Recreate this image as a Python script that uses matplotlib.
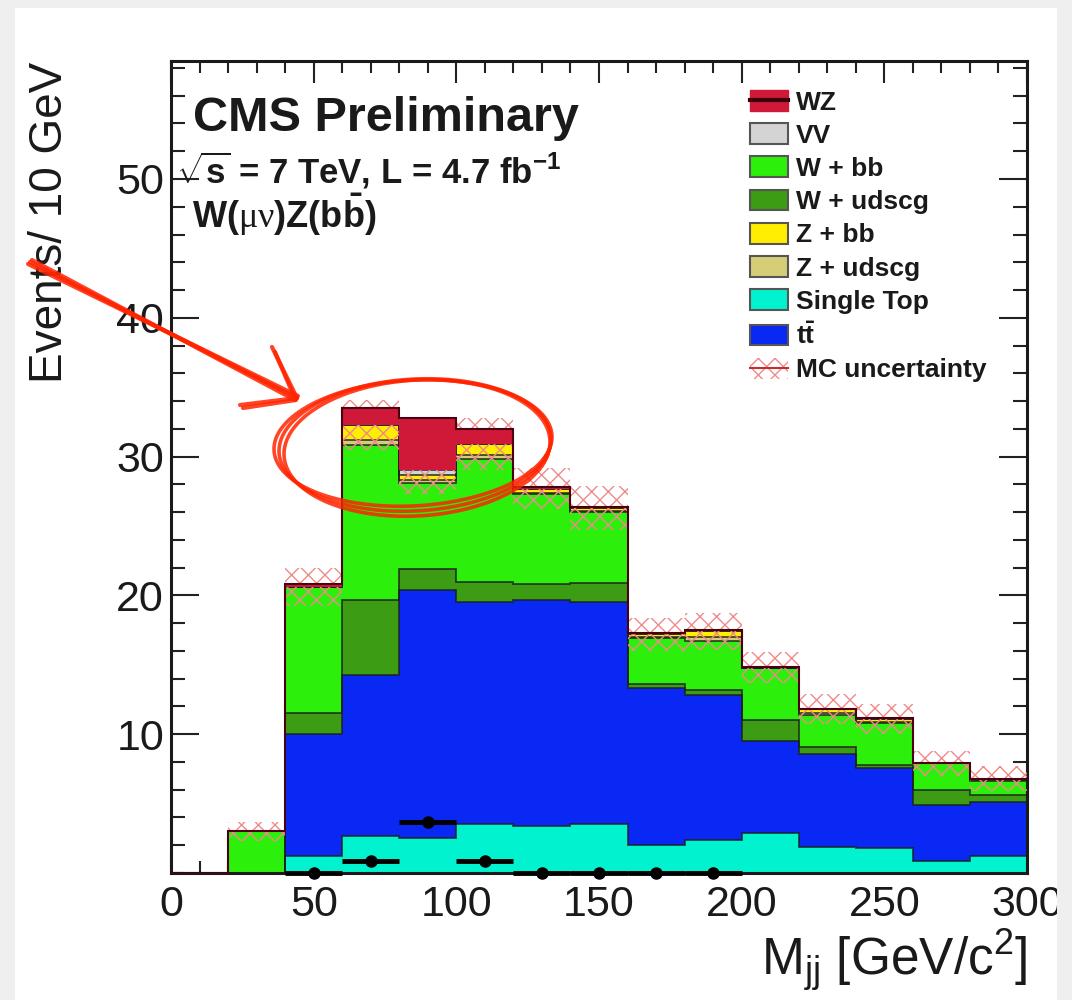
import numpy as np
import matplotlib.pyplot as plt
from matplotlib.patches import Patch, Rectangle
from matplotlib.lines import Line2D

plt.rcParams['font.family'] = ['Liberation Sans', 'DejaVu Sans']
plt.rcParams['mathtext.fontset'] = 'custom'
plt.rcParams['mathtext.rm'] = 'Liberation Serif'
plt.rcParams['mathtext.bf'] = 'Liberation Sans:bold'
plt.rcParams['mathtext.sf'] = 'Liberation Sans'
plt.rcParams['mathtext.it'] = 'Liberation Sans:italic'
plt.rcParams['hatch.linewidth'] = 1.0

# bins of 20 GeV from 0 to 300
edges = np.arange(0, 320, 20)

# contributions per bin (stacked, bottom to top)
single_top = [0, 0, 1.2, 2.7, 2.5, 3.5, 3.4, 3.5, 2.0, 2.4, 2.9, 1.9, 1.8, 0.9, 1.2]
ttbar = [0, 0, 8.8, 11.6, 17.9, 16.0, 16.3, 16.0, 11.3, 10.45, 6.6, 6.7, 5.8, 4.0, 3.95]
w_udscg = [0, 0, 1.5, 5.4, 1.5, 1.5, 1.1, 1.4, 0.3, 0.35, 1.5, 0.5, 0.2, 1.1, 0.45]
w_bb = [0, 3.0, 9.1, 11.1, 6.2, 8.8, 6.5, 5.1, 3.3, 3.5, 3.8, 2.3, 3.0, 1.9, 1.0]
z_udscg = [0, 0, 0, 0.4, 0.2, 0.3, 0.1, 0.1, 0.1, 0.3, 0, 0.1, 0.1, 0, 0.1]
z_bb = [0, 0, 0, 1.1, 0.4, 0.8, 0.3, 0.2, 0.2, 0.4, 0, 0.3, 0.2, 0, 0.1]
vv = [0, 0, 0, 0, 0.3, 0, 0, 0, 0, 0, 0, 0, 0, 0, 0]
wz = [0, 0, 0.2, 1.2, 3.75, 1.1, 0.1, 0.1, 0.1, 0.1, 0.05, 0.05, 0.05, 0, 0]
mc_err = [0, 0.7, 1.4, 1.8, 1.7, 1.9, 1.5, 1.6, 1.2, 1.3, 1.1, 1.1, 1.1, 0.9, 0.9]

# WZ shape shown as black points
wz_x = [50, 70, 90, 110, 130, 150, 170, 190]
wz_y = [0, 0.9, 3.7, 0.9, 0, 0, 0, 0]

c_wz = '#d01838'
c_vv = '#d4d4d4'
c_wbb = '#2cf00c'
c_wud = '#3c9c14'
c_zbb = '#ffee00'
c_zud = '#d6cd78'
c_st = '#00f2cf'
c_tt = '#0a28f4'
c_err = '#f08a8a'

W, H = 1072, 1000
fig = plt.figure(figsize=(W / 100, H / 100), dpi=100, facecolor='#efefef')


def px(x, y):
    return x / W, 1 - y / H


# white panel of the screenshot
fig.patches.append(Rectangle((15 / W, 0), 1042 / W, 992 / H, transform=fig.transFigure,
                             facecolor='white', edgecolor='none', zorder=-5))

ax = fig.add_axes([171 / W, 1 - 873 / H, (1027 - 171) / W, (873 - 61) / H])

stack = [(single_top, c_st), (ttbar, c_tt), (w_udscg, c_wud), (w_bb, c_wbb),
         (z_udscg, c_zud), (z_bb, c_zbb), (vv, c_vv)]
bottom = np.zeros(len(edges) - 1)
for vals, col in stack:
    vals = np.array(vals, dtype=float)
    ax.stairs(bottom + vals, edges, baseline=bottom, fill=True, color=col, lw=0, zorder=2)
    ax.stairs(bottom + vals, edges, baseline=None, color='#1e1e1e', lw=1.3, alpha=0.8, zorder=2.5)
    bottom = bottom + vals

# MC uncertainty band around the background sum
err = np.array(mc_err)
centers = (edges[:-1] + edges[1:]) / 2
ax.bar(centers, 2 * err, bottom=bottom - err, width=20, facecolor='none',
       edgecolor=c_err, hatch='xx', lw=0, zorder=3)

# WZ on top
wzv = np.array(wz)
ax.stairs(bottom + wzv, edges, baseline=bottom, fill=True, color=c_wz, lw=0, zorder=4)
ax.stairs(bottom + wzv, edges, baseline=None, color='#4a0010', lw=1.5, zorder=4.5)

ax.errorbar(wz_x, wz_y, xerr=10, fmt='o', color='black', ms=8, lw=3.5,
            capsize=0, zorder=6, clip_on=False)

ax.set_xlim(0, 300)
ax.set_ylim(0, 58.5)
ax.set_xticks(np.arange(0, 301, 50))
ax.set_xticks(np.arange(0, 301, 10), minor=True)
ax.set_yticks([10, 20, 30, 40, 50])
ax.set_yticks(np.arange(0, 58.5, 2), minor=True)
ax.tick_params(which='both', direction='in', top=True, right=True, colors='#222222',
               width=1.5, labelsize=31, labelcolor='#1a1a1a')
ax.tick_params(axis='x', which='major', length=16, pad=9)
ax.tick_params(axis='x', which='minor', length=8.5)
ax.tick_params(axis='y', which='major', length=20, pad=5)
ax.tick_params(axis='y', which='minor', length=10)
for s in ax.spines.values():
    s.set_linewidth(2.2)
    s.set_color('#1a1a1a')

# texts
fig.text(*px(193, 131), 'CMS Preliminary', fontsize=35, fontweight='bold',
         color='#1a1a1a', va='baseline')
fig.text(*px(176, 184), r'$\sqrt{\mathbf{s}}$ = 7 TeV, L = 4.7 fb$^{\mathbf{-1}}$',
         fontsize=25, fontweight='bold', color='#1a1a1a', va='baseline')
fig.text(*px(192, 228), r'$\mathbf{W(}\mathrm{\mu\nu}\mathbf{)Z(b\bar{b})}$',
         fontsize=26, color='#1a1a1a', va='baseline')

fig.text(*px(72, 62), 'Events/ 10 GeV', fontsize=33, rotation=90, ha='right',
         va='top', color='#1a1a1a')
fig.text(*px(1027, 975), r'M$_{\mathsf{jj}}$ [GeV/c$^{\mathsf{2}}$]', fontsize=37,
         ha='right', va='baseline', color='#1a1a1a')

# legend
handles = [
    (Patch(facecolor=c_wz, edgecolor=c_wz), Line2D([], [], color='#3a0008', lw=3)),
    Patch(facecolor=c_vv, edgecolor='#555555', lw=1.5),
    Patch(facecolor=c_wbb, edgecolor='#555555', lw=1.5),
    Patch(facecolor=c_wud, edgecolor='#555555', lw=1.5),
    Patch(facecolor=c_zbb, edgecolor='#555555', lw=1.5),
    Patch(facecolor=c_zud, edgecolor='#555555', lw=1.5),
    Patch(facecolor=c_st, edgecolor='#555555', lw=1.5),
    Patch(facecolor=c_tt, edgecolor='#555555', lw=1.5),
    (Patch(facecolor='none', edgecolor=c_err, hatch='xx', lw=0), Line2D([], [], color='#c03030', lw=1.5)),
]
labels = ['WZ', 'VV', 'W + bb', 'W + udscg', 'Z + bb', 'Z + udscg', 'Single Top',
          r'$\mathbf{t\bar{t}}$', 'MC uncertainty']
leg = fig.legend(handles, labels, loc='upper left', bbox_to_anchor=px(750, 90),
                 bbox_transform=fig.transFigure, frameon=False, borderpad=0,
                 borderaxespad=0, handlelength=1.44, handleheight=0.83,
                 handletextpad=0.3, labelspacing=0.33,
                 prop={'size': 19, 'weight': 'bold'})
for t in leg.get_texts():
    t.set_color('#1a1a1a')

# hand-drawn red annotation: arrow and ellipse
red = '#ff2400'
shaft = [((30, 262), (297, 398)), ((32, 260), (295, 400)), ((28, 264), (298, 396))]
barbs = [((297, 398), (240, 405)), ((296, 400), (243, 408)),
         ((297, 398), (272, 347)), ((295, 399), (275, 352))]
for (x0, y0), (x1, y1) in shaft + barbs:
    a, b = px(x0, y0)
    c, d = px(x1, y1)
    fig.add_artist(Line2D([a, c], [b, d], color=red, lw=3, alpha=0.85,
                          solid_capstyle='round', zorder=20))

t = np.linspace(0.2, 2 * np.pi + 0.6, 300)
for dx, dy, da, db in [(0, 0, 0, 0), (2, 3, -3, 2), (-2, -2, 3, -3)]:
    ex = 415 + dx + (136 + da) * np.cos(t)
    ey = 445 + dy + (66 + db) * np.sin(t) - 6 * np.cos(t)
    fig.add_artist(Line2D(ex / W, 1 - ey / H, color=red, lw=2.6, alpha=0.85, zorder=20))

# right edge of the screenshot cuts the last label
fig.patches.append(Rectangle((1057 / W, 0), 15 / W, 1, transform=fig.transFigure,
                             facecolor='#efefef', edgecolor='none', zorder=30))

fig.savefig('out.png', dpi=100, facecolor=fig.get_facecolor())
